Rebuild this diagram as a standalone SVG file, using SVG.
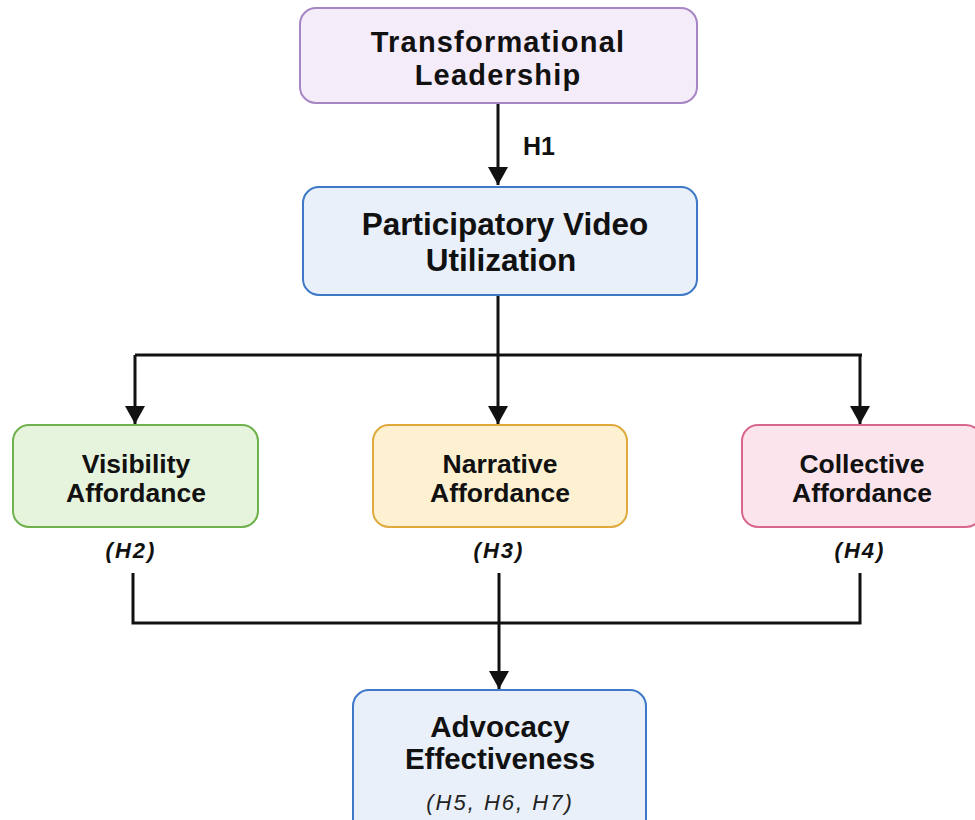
<svg xmlns="http://www.w3.org/2000/svg" width="975" height="820" viewBox="0 0 975 820">
<defs>
<marker id="ah" markerUnits="userSpaceOnUse" markerWidth="20" markerHeight="20" refX="18" refY="10" orient="auto">
<path d="M0,0 L18,10 L0,20 z" fill="#111"/>
</marker>
<style>
.box{stroke-width:2}
.t{font-family:"Liberation Sans",Arial,sans-serif;font-weight:bold;fill:#111;text-anchor:middle}
.mid{font-size:26.5px}
.h{font-family:"Liberation Sans",Arial,sans-serif;font-weight:bold;font-style:italic;font-size:22px;letter-spacing:2px;fill:#111;text-anchor:middle}
.hi{font-family:"Liberation Sans",Arial,sans-serif;font-style:italic;font-size:22px;letter-spacing:2px;fill:#222;text-anchor:middle}
.c{stroke:#111;stroke-width:3;fill:none}
</style>
</defs>
<rect width="975" height="820" fill="#ffffff"/>
<g id="connectors">
<line class="c" x1="498" y1="104" x2="498" y2="185" marker-end="url(#ah)"/>
<text class="t" x="523" y="155" style="font-size:25px;text-anchor:start">H1</text>
<polyline class="c" points="498,296 498,355"/>
<polyline class="c" points="135,355 862,355"/>
<line class="c" x1="135" y1="355" x2="135" y2="424" marker-end="url(#ah)"/>
<line class="c" x1="498" y1="355" x2="498" y2="424" marker-end="url(#ah)"/>
<line class="c" x1="860" y1="355" x2="860" y2="424" marker-end="url(#ah)"/>
<polyline class="c" points="133,573 133,623 860,623 860,573"/>
<line class="c" x1="499" y1="573" x2="499" y2="689" marker-end="url(#ah)"/>
</g>
<g id="transformational-leadership">
<rect class="box" x="300" y="8" width="397" height="95" rx="16" fill="#f4ecf8" stroke="#a585c4"/>
<text class="t" x="498" y="52" style="font-size:29px;letter-spacing:1.2px">Transformational</text>
<text class="t" x="498" y="85" style="font-size:29px;letter-spacing:1.2px">Leadership</text>
</g>
<g id="participatory-video">
<rect class="box" x="303" y="187" width="394" height="108" rx="16" fill="#e9f0fa" stroke="#3d79c6"/>
<text class="t" x="505" y="235" style="font-size:31.5px">Participatory Video</text>
<text class="t" x="501" y="271" style="font-size:31.5px">Utilization</text>
</g>
<g id="visibility">
<rect class="box" x="13" y="425" width="245" height="102" rx="16" fill="#e7f4dd" stroke="#6fb14c"/>
<text class="t mid" x="136" y="473">Visibility</text>
<text class="t mid" x="136" y="502">Affordance</text>
<text class="h" x="131" y="558">(H2)</text>
</g>
<g id="narrative">
<rect class="box" x="373" y="425" width="254" height="102" rx="16" fill="#fdf1d2" stroke="#e0a93c"/>
<text class="t mid" x="500" y="473">Narrative</text>
<text class="t mid" x="500" y="502">Affordance</text>
<text class="h" x="499" y="558">(H3)</text>
</g>
<g id="collective">
<rect class="box" x="742" y="425" width="240" height="102" rx="16" fill="#fce4ec" stroke="#d8678d"/>
<text class="t mid" x="862" y="473">Collective</text>
<text class="t mid" x="862" y="502">Affordance</text>
<text class="h" x="860" y="558">(H4)</text>
</g>
<g id="advocacy">
<rect class="box" x="353" y="690" width="293" height="150" rx="16" fill="#e9f0fa" stroke="#3d79c6"/>
<text class="t" x="500" y="737" style="font-size:29.5px">Advocacy</text>
<text class="t" x="500" y="769" style="font-size:29.5px">Effectiveness</text>
<text class="hi" x="500" y="810">(H5, H6, H7)</text>
</g>
</svg>
